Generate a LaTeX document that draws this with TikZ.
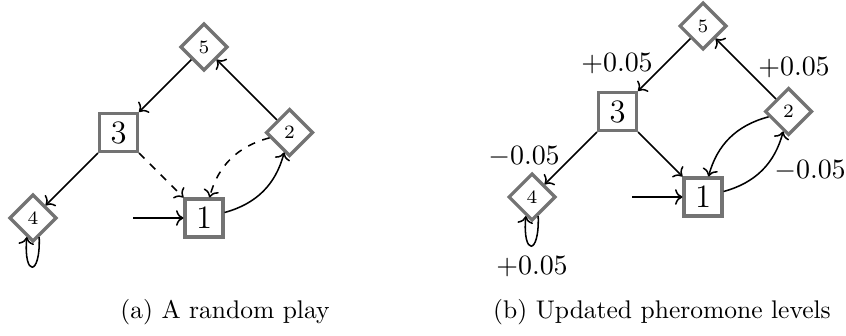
\documentclass[tikz,border=0pt]{standalone}
\usetikzlibrary{shapes.geometric,arrows.meta}
\begin{document}
\begin{tikzpicture}[x=0.392pt,y=0.392pt,
  sq/.style={draw=black!55, line width=1.3pt, fill=white, minimum size=14.8pt, inner sep=0pt, font=\fontsize{12.8}{15}\selectfont},
  dm/.style={diamond, draw=black!55, line width=1.3pt, fill=white, minimum size=18.5pt, inner sep=0pt, font=\fontsize{7.4}{9}\selectfont},
  arr/.style={semithick, ->},
  lbl/.style={font=\fontsize{11.2}{13}\selectfont, inner sep=0pt},
  captext/.style={font=\fontsize{10}{12}\selectfont, inner sep=0pt}]
\useasboundingbox (0,0) rectangle (846,335);
% (a)
\begin{scope}[shift={(204,117)}]
 \node[sq] (a1) at (0,0) {1};
 \node[dm] (a2) at (85.5,85.5) {2};
 \node[sq] (a3) at (-85.5,85.5) {3};
 \node[dm] (a4) at (-171,0) {4};
 \node[dm] (a5) at (0,171) {5};
 \coordinate (a0) at (-71,0);
 \draw[arr] (a0) -- (a1);
 \draw[arr] (a1) to[bend right=30] (a2);
 \draw[arr] (a2) -- (a5);
 \draw[arr] (a5) -- (a3);
 \draw[arr] (a3) -- (a4);
 \draw[arr,dashed] (a3) -- (a1);
 \draw[arr,dashed] (a2) to[bend right=30] (a1);
 \draw[arr] (a4.-72) .. controls +(-88:40) and +(-95:40) .. (a4.-108);
\end{scope}
% (b)
\begin{scope}[shift={(703,138)}]
 \node[sq] (b1) at (0,0) {1};
 \node[dm] (b2) at (85.5,85.5) {2};
 \node[sq] (b3) at (-85.5,85.5) {3};
 \node[dm] (b4) at (-171,0) {4};
 \node[dm] (b5) at (0,171) {5};
 \coordinate (b0) at (-71,0);
 \draw[arr] (b0) -- (b1);
 \draw[arr] (b1) to[bend right=30] (b2);
 \draw[arr] (b2) -- (b5);
 \draw[arr] (b5) -- (b3);
 \draw[arr] (b3) -- (b4);
 \draw[arr] (b3) -- (b1);
 \draw[arr] (b2) to[bend right=30] (b1);
 \draw[arr] (b4.-72) .. controls +(-88:40) and +(-95:40) .. (b4.-108);
 \node[lbl] (l53) at (-86,133) {$+0.05$};
 \node[lbl] (l25) at (91,129.5) {$+0.05$};
 \node[lbl] (l34) at (-179,40) {$-0.05$};
 \node[lbl] (l12) at (107,26) {$-0.05$};
 \node[lbl] (l44) at (-171,-70) {$+0.05$};
\end{scope}
\node[captext] (capa) at (225,22.5) {(a) A random play};
\node[captext] (capb) at (662,22.5) {(b) Updated pheromone levels};
\end{tikzpicture}
\end{document}
